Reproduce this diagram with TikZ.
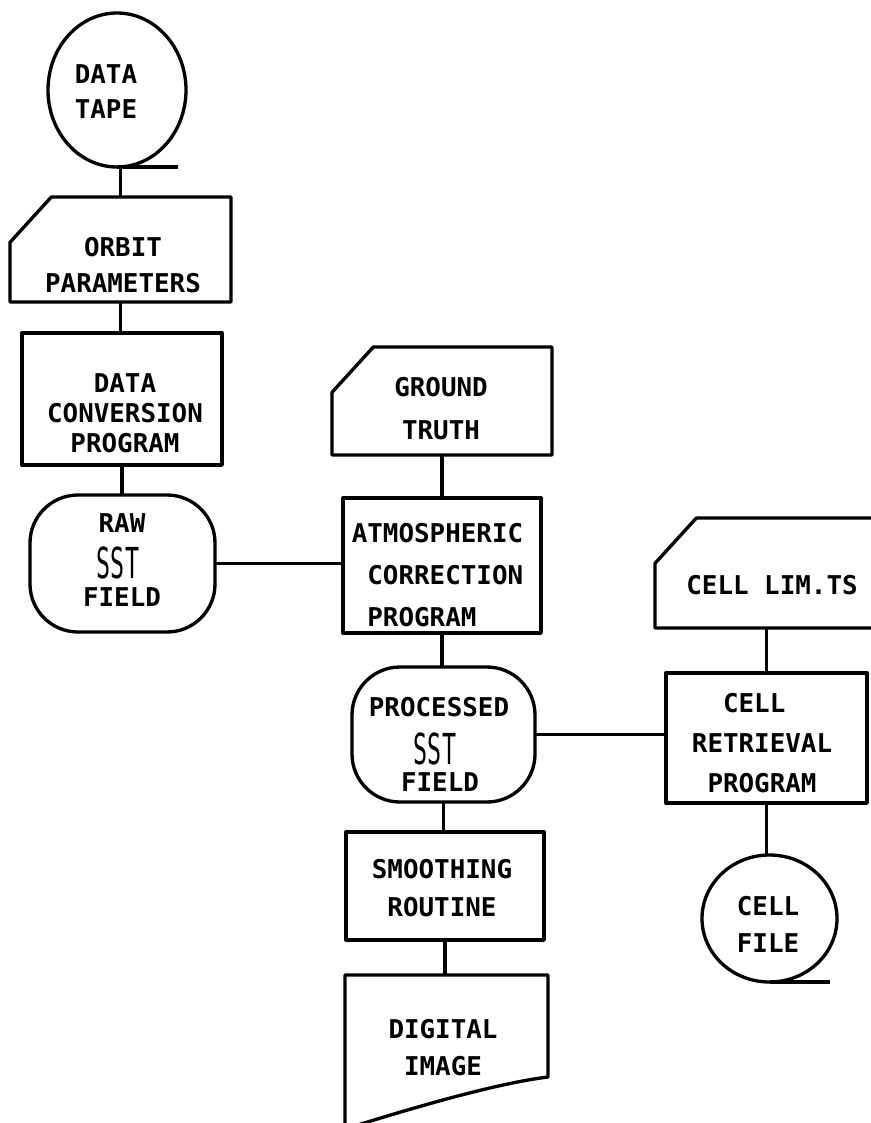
\documentclass[tikz,border=0pt]{standalone}
\usepackage{fontspec}
\usepackage{graphicx}
\setmonofont{DejaVu Sans Mono}
\usetikzlibrary{shapes.geometric,calc}

\newcommand\cardoutline[1]{%
  \draw[box line] (#1.north east) -- (#1.south east) -- (#1.south west)
    -- ([yshift=-34pt]#1.north west) -- ([xshift=31pt]#1.north west) -- cycle;}

\begin{document}
\begin{tikzpicture}[x=0.75pt,y=-0.75pt,
    box line/.style={line width=2.5pt,line join=round},
    shp/.style={inner sep=0pt,outer sep=0pt},
    proc box/.style={shp,draw,box line,rectangle},
    term box/.style={shp,draw,box line,rectangle,rounded corners=36pt},
    tape box/.style={shp,draw,box line,ellipse},
    lbl/.style={align=center,inner sep=0pt,font=\ttfamily\bfseries\fontsize{19.4pt}{#1}\selectfont},
    lbl/.default=28pt,
    sst/.style={inner sep=0pt,font=\ttfamily\fontsize{19.4pt}{20pt}\selectfont},
    link/.style={line width=2.8pt}]
  \useasboundingbox (0,0) rectangle (870,1123);

  % left column
  \node[tape box,minimum width=103.5pt,minimum height=115.5pt] (tape) at (117,90) {};
  \node[lbl=26.25pt] (tape-t) at (106,92) {DATA\\TAPE};
  \node[shp,minimum width=165.75pt,minimum height=78.75pt] (orbit) at (120.5,249.5) {};
  \cardoutline{orbit}
  \node[lbl=27pt] (orbit-t) at (123,265) {ORBIT\\PARAMETERS};
  \node[proc box,minimum width=150pt,minimum height=99pt] (conv) at (122,399) {};
  \node[lbl=22.5pt] (conv-t) at (125,413) {DATA\\CONVERSION\\PROGRAM};
  \node[term box,minimum width=138.75pt,minimum height=102.75pt] (raw) at (122.5,563.5) {};
  \node[lbl] (raw-a) at (122,523) {RAW};
  \node[sst] (raw-b) at (118,563) {\scalebox{0.9}[1.65]{SST}};
  \node[lbl] (raw-c) at (122,597) {FIELD};

  % middle column
  \node[shp,minimum width=165pt,minimum height=81pt] (ground) at (442,401) {};
  \cardoutline{ground}
  \node[lbl=32.25pt] (ground-t) at (441,408.5) {GROUND\\TRUTH};
  \node[proc box,minimum width=148.5pt,minimum height=101.25pt] (atmos) at (442,565.5) {};
  \node[lbl=31.5pt,align=left] (atmos-t) at (437.5,575.5)
    {ATMOSPHERIC\\\phantom{A}CORRECTION\\\phantom{A}PROGRAM};
  \node[term box,minimum width=137.25pt,minimum height=101.25pt] (proc) at (443.5,734.5) {};
  \node[lbl] (proc-a) at (439,707) {PROCESSED};
  \node[sst] (proc-b) at (435,749) {\scalebox{0.9}[1.65]{SST}};
  \node[lbl] (proc-c) at (440,782) {FIELD};
  \node[proc box,minimum width=148.5pt,minimum height=81pt] (smooth) at (445,886) {};
  \node[lbl=28.5pt] (smooth-t) at (442,888) {SMOOTHING\\ROUTINE};
  \node[shp,minimum width=152.25pt,minimum height=76.5pt] (digital) at (446.5,1026) {};
  \draw[box line] ($(digital.south west)+(0,55)$) -- (digital.north west)
    -- (digital.north east) -- (digital.south east)
    .. controls +(-50,6) and +(70,-22) .. ($(digital.south west)+(0,52)$);
  \node[lbl=27.75pt] (digital-t) at (443,1047.5) {DIGITAL\\IMAGE};

  % right column
  \node[shp,minimum width=168.75pt,minimum height=82.5pt] (limits) at (767.5,573) {};
  \cardoutline{limits}
  \node[lbl] (limits-t) at (772,585) {CELL LIM.TS};
  \node[proc box,minimum width=150.75pt,minimum height=97.5pt] (retr) at (766.5,738) {};
  \node[lbl=30pt] (retr-t) at (762,743) {CELL\phantom{A}\\RETRIEVAL\\PROGRAM};
  \node[tape box,minimum width=101.25pt,minimum height=95.25pt] (cellfile) at (769.5,918.5) {};
  \node[lbl=27.75pt] (cellfile-t) at (768,924.5) {CELL\\FILE};

  % tape tails
  \draw[box line] (tape.south) -- ++(61,0);
  \draw[box line] (cellfile.south) -- ++(60,0);

  % connectors
  \draw[link] (orbit.north) -- (orbit.north |- tape.south);
  \draw[link] (orbit.south) -- (orbit.south |- conv.north);
  \draw[link] (conv.south) -- (conv.south |- raw.north);
  \draw[link] (raw.east) -- (raw.east -| atmos.west);
  \draw[link] (ground.south) -- (ground.south |- atmos.north);
  \draw[link] (atmos.south) -- (atmos.south |- proc.north);
  \draw[link] (proc.east) -- (proc.east -| retr.west);
  \draw[link] (proc.south) -- (proc.south |- smooth.north);
  \draw[link] (smooth.south) -- (smooth.south |- digital.north);
  \draw[link] (retr.north) -- (retr.north |- limits.south);
  \draw[link] (retr.south) -- (retr.south |- cellfile.north);
\end{tikzpicture}
\end{document}
